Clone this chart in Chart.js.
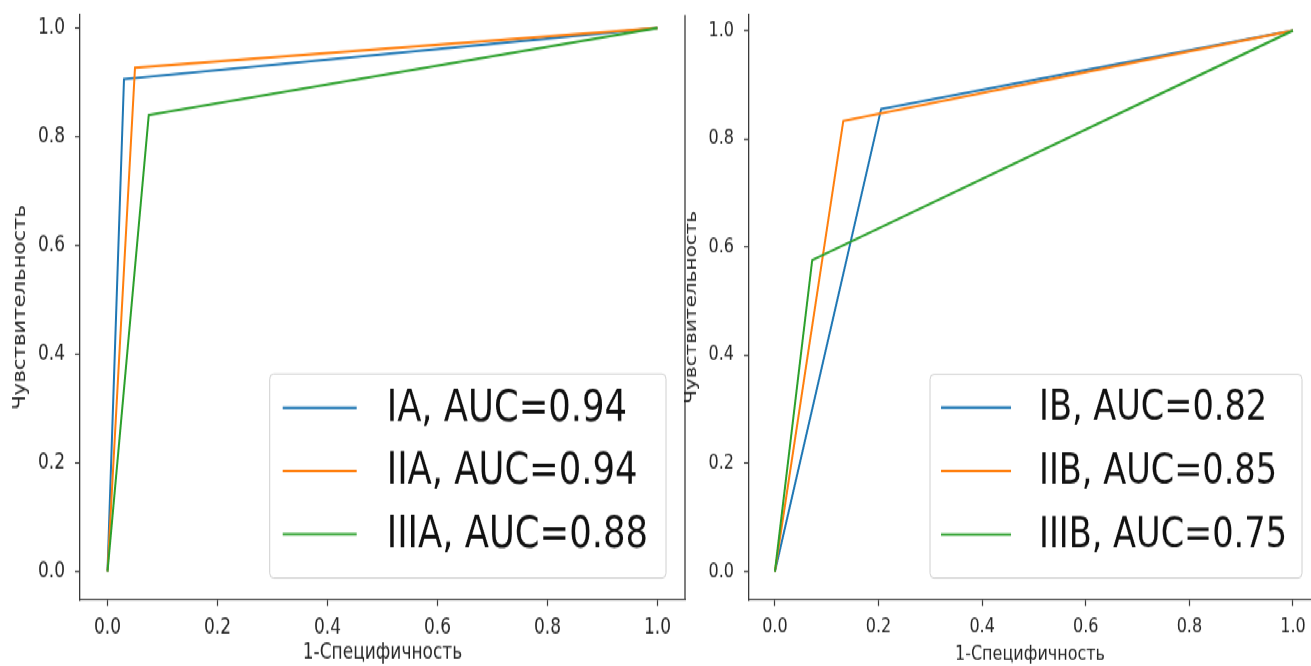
<!DOCTYPE html>
<html>
<head>
<meta charset="utf-8">
<script src="https://cdn.jsdelivr.net/npm/chart.js@4"></script>
<style>
html, body { margin: 0; padding: 0; background: #ffffff; overflow: hidden; }
#page { position: relative; width: 1311px; height: 666px; overflow: hidden; background: #fff; }
#stage { position: absolute; left: 0; top: 0; width: 1311px; height: 533px; transform: scaleY(1.24953); transform-origin: 0 0; }
#stage canvas { position: absolute; left: 0; top: 0; }
</style>
</head>
<body>
<div id="page">
  <div id="stage">
    <canvas id="chartA" width="1311" height="533"></canvas>
    <canvas id="chartB" width="1311" height="533"></canvas>
  </div>
</div>
<script>
// ---------- data ----------
const tickValues = [0, 0.2, 0.4, 0.6, 0.8, 1.0];
const xTitle = '1-Специфичность';
const yTitle = 'Чувствительность';

const labelsA = ['IA, AUC=0.94', 'IIA, AUC=0.94', 'IIIA, AUC=0.88'];
const fprIA   = [0, 0.030, 1];
const tprIA   = [0, 0.906, 1];
const fprIIA  = [0, 0.050, 1];
const tprIIA  = [0, 0.927, 1];
const fprIIIA = [0, 0.075, 1];
const tprIIIA = [0, 0.840, 1];

const labelsB = ['IB, AUC=0.82', 'IIB, AUC=0.85', 'IIIB, AUC=0.75'];
const fprIB   = [0, 0.205, 1];
const tprIB   = [0, 0.855, 1];
const fprIIB  = [0, 0.132, 1];
const tprIIB  = [0, 0.833, 1];
const fprIIIB = [0, 0.072, 1];
const tprIIIB = [0, 0.576, 1];

const colors = ['#1f77b4', '#ff7f0e', '#2ca02c'];

// ---------- style ----------
const FONT = '"DejaVu Sans", "Noto Sans", sans-serif';
const AXIS_COLOR = '#3a3a3a';
const TEXT_COLOR = '#262626';

function makeDatasets(labels, fprs, tprs) {
  return labels.map((lab, i) => ({
    label: lab,
    data: fprs[i].map((x, j) => ({ x: x, y: tprs[i][j] })),
    borderColor: colors[i],
    backgroundColor: colors[i],
    borderWidth: 2,
    showLine: true,
    pointRadius: 0,
    pointHoverRadius: 0,
    tension: 0,
    fill: false,
    order: labels.length - i
  }));
}

const framePlugin = {
  id: 'frame',
  afterDraw(chart, args, o) {
    const ctx = chart.ctx;
    const a = chart.chartArea;
    ctx.save();
    if (o.rightSpine) {
      ctx.strokeStyle = AXIS_COLOR;
      ctx.lineWidth = 1.3;
      ctx.beginPath();
      ctx.moveTo(a.right, a.top);
      ctx.lineTo(a.right, a.bottom);
      ctx.stroke();
    }
    // legend box (lower right)
    const ds = chart.data.datasets;
    ctx.font = o.fontSize + 'px ' + FONT;
    let maxW = 0;
    ds.forEach(d => { maxW = Math.max(maxW, ctx.measureText(d.label).width); });
    const w = o.padL + o.sample + o.gap + maxW + o.padR;
    const x1 = a.right - o.offR;
    const x0 = x1 - w;
    const y1 = a.bottom - o.offB;
    const y0 = y1 - o.height;
    ctx.beginPath();
    if (ctx.roundRect) ctx.roundRect(x0, y0, w, o.height, 4); else ctx.rect(x0, y0, w, o.height);
    ctx.fillStyle = 'rgba(255,255,255,0.85)';
    ctx.fill();
    ctx.strokeStyle = '#d0d0d0';
    ctx.lineWidth = 1;
    ctx.stroke();
    ds.forEach((d, i) => {
      const y = y0 + o.firstY + i * o.step;
      ctx.strokeStyle = d.borderColor;
      ctx.lineWidth = 2;
      ctx.beginPath();
      ctx.moveTo(x0 + o.padL, y);
      ctx.lineTo(x0 + o.padL + o.sample, y);
      ctx.stroke();
      ctx.fillStyle = '#111';
      ctx.textAlign = 'left';
      ctx.textBaseline = 'middle';
      ctx.fillText(d.label, x0 + o.padL + o.sample + o.gap, y + 1);
    });
    ctx.restore();
  }
};

function makeChart(id, datasets, c) {
  return new Chart(document.getElementById(id), {
    type: 'scatter',
    data: { datasets: datasets },
    plugins: [framePlugin],
    options: {
      responsive: false,
      animation: false,
      events: [],
      layout: { padding: c.padding },
      plugins: {
        legend: { display: false },
        tooltip: { enabled: false },
        frame: c.legend
      },
      scales: {
        x: {
          type: 'linear',
          min: c.xMin, max: c.xMax,
          afterBuildTicks: s => { s.ticks = tickValues.map(v => ({ value: v })); },
          afterFit: s => { s.height = 53; s.paddingLeft = 0; s.paddingRight = 0; },
          grid: { display: true, drawOnChartArea: false, drawTicks: true, tickLength: 5, tickWidth: 1.2, tickColor: AXIS_COLOR },
          border: { display: true, color: AXIS_COLOR, width: 1.3 },
          ticks: {
            font: { family: FONT, size: c.tickSize }, color: TEXT_COLOR, padding: 7,
            maxRotation: 0, autoSkip: false,
            callback: v => Number(v).toFixed(1)
          },
          title: { display: true, text: xTitle, color: TEXT_COLOR, font: { family: FONT, size: c.titleSize }, padding: { top: 0, bottom: 0 } }
        },
        y: {
          type: 'linear',
          min: c.yMin, max: c.yMax,
          afterBuildTicks: s => { s.ticks = tickValues.map(v => ({ value: v })); },
          afterFit: s => { s.width = c.yWidth; s.paddingTop = 0; s.paddingBottom = 0; },
          grid: { display: true, drawOnChartArea: false, drawTicks: true, tickLength: 5, tickWidth: 1.2, tickColor: AXIS_COLOR },
          border: { display: true, color: AXIS_COLOR, width: 1.3 },
          ticks: {
            font: { family: FONT, size: c.tickSize }, color: TEXT_COLOR, padding: 10,
            autoSkip: false,
            callback: v => Number(v).toFixed(1)
          },
          title: { display: true, text: yTitle, color: TEXT_COLOR, font: { family: FONT, size: c.titleSize }, padding: { top: 10, bottom: 0 } }
        }
      }
    }
  });
}

makeChart('chartA', makeDatasets(labelsA, [fprIA, fprIIA, fprIIIA], [tprIA, tprIIA, tprIIIA]), {
  padding: { left: 0, top: 12, right: 626, bottom: 0 },
  yWidth: 80,
  xMin: -0.05, xMax: 1.05,
  yMin: -0.052, yMax: 1.024,
  tickSize: 17, titleSize: 17,
  legend: { rightSpine: true, fontSize: 35.4, padL: 13, sample: 74, gap: 30, padR: 18, offR: 19, offB: 17.4, height: 163.3, firstY: 27.2, step: 50.45 }
});

makeChart('chartB', makeDatasets(labelsB, [fprIB, fprIIB, fprIIIB], [tprIB, tprIIB, tprIIIB]), {
  padding: { left: 672, top: 12, right: 0, bottom: 0 },
  yWidth: 77,
  xMin: -0.05, xMax: 1.0348,
  yMin: -0.052, yMax: 1.029,
  tickSize: 16, titleSize: 16,
  legend: { rightSpine: false, fontSize: 33.6, padL: 11, sample: 70, gap: 28, padR: 15, offR: 9, offB: 17.4, height: 163, firstY: 26.6, step: 50.8 }
});
</script>
</body>
</html>
